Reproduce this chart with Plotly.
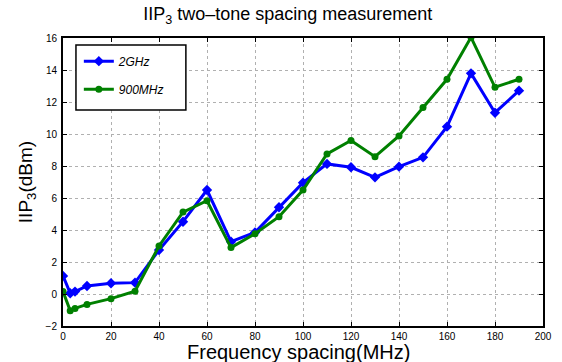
import plotly.graph_objects as go

freq = [0, 3, 5, 10, 20, 30, 40, 50, 60, 70, 80, 90, 100, 110, 120, 130, 140, 150, 160, 170, 180, 190]
iip3_2ghz = [1.13, 0.05, 0.15, 0.5, 0.67, 0.71, 2.75, 4.52, 6.5, 3.27, 3.85, 5.42, 6.96, 8.13, 7.92, 7.29, 7.96, 8.54, 10.46, 13.79, 11.33, 12.71]
iip3_900mhz = [0.15, -1.04, -0.9, -0.65, -0.29, 0.17, 3.0, 5.12, 5.83, 2.9, 3.77, 4.83, 6.5, 8.75, 9.6, 8.58, 9.88, 11.65, 13.42, 16.04, 12.92, 13.42]

x_ticks = list(range(0, 201, 20))
y_ticks = list(range(-2, 17, 2))

FONT = "Liberation Sans, Arial, Helvetica, sans-serif"

fig = go.Figure()
fig.add_trace(go.Scatter(
    x=freq, y=iip3_2ghz, name="<i>2GHz</i>", mode="lines+markers",
    line=dict(color="#0000ff", width=3),
    marker=dict(symbol="diamond", size=8, color="#0000ff"),
    legendgroup="a",
))
fig.add_trace(go.Scatter(
    x=freq, y=iip3_900mhz, name="<i>900MHz</i>", mode="lines+markers",
    line=dict(color="#008000", width=3),
    marker=dict(symbol="circle", size=7, color="#008000"),
    legendgroup="b",
))

axis_common = dict(
    showline=True, linecolor="black", linewidth=2, mirror="ticks",
    ticks="inside", ticklen=4, tickcolor="black", tickwidth=1,
    showgrid=True, gridcolor="#b0b0b0", griddash="dot", gridwidth=1,
    zeroline=False, tickfont=dict(size=10, color="black", family=FONT),
    automargin=False,
)

fig.update_xaxes(range=[0, 200], tickvals=x_ticks, ticklabelstandoff=0, **axis_common)
fig.update_yaxes(range=[-2, 16], tickvals=y_ticks, ticklabelstandoff=2,
                 title=dict(text="IIP<sub>3</sub>(dBm)", font=dict(size=19, color="black", family=FONT), standoff=8),
                 **axis_common)

fig.add_annotation(text="Frequency spacing(MHz)", xref="paper", yref="paper",
                   x=0.49, y=-0.09, xanchor="center", yanchor="middle", showarrow=False,
                   font=dict(size=20, color="black", family=FONT))

# legend frame (MATLAB-style box, wider than plotly's auto legend)
fig.add_shape(type="rect", xref="paper", yref="paper",
              x0=0.027, x1=0.256, y0=0.75, y1=0.976,
              line=dict(color="black", width=1.5), fillcolor="white", layer="above")

fig.update_layout(
    width=562, height=362,
    margin=dict(l=63, r=19, t=38, b=36),
    paper_bgcolor="white", plot_bgcolor="white",
    font=dict(family=FONT, color="black"),
    title=dict(text="IIP<sub>3</sub> two\u2013tone spacing measurement", x=0.512, xanchor="center",
               y=0.98, yanchor="top", font=dict(size=18, color="black", family=FONT)),
    legend=dict(x=0.033, y=0.97, xanchor="left", yanchor="top",
                borderwidth=0, bgcolor="rgba(0,0,0,0)",
                font=dict(size=12, family=FONT, color="black"),
                traceorder="grouped", tracegroupgap=9),
    showlegend=True,
)

fig.write_html("out.html")
